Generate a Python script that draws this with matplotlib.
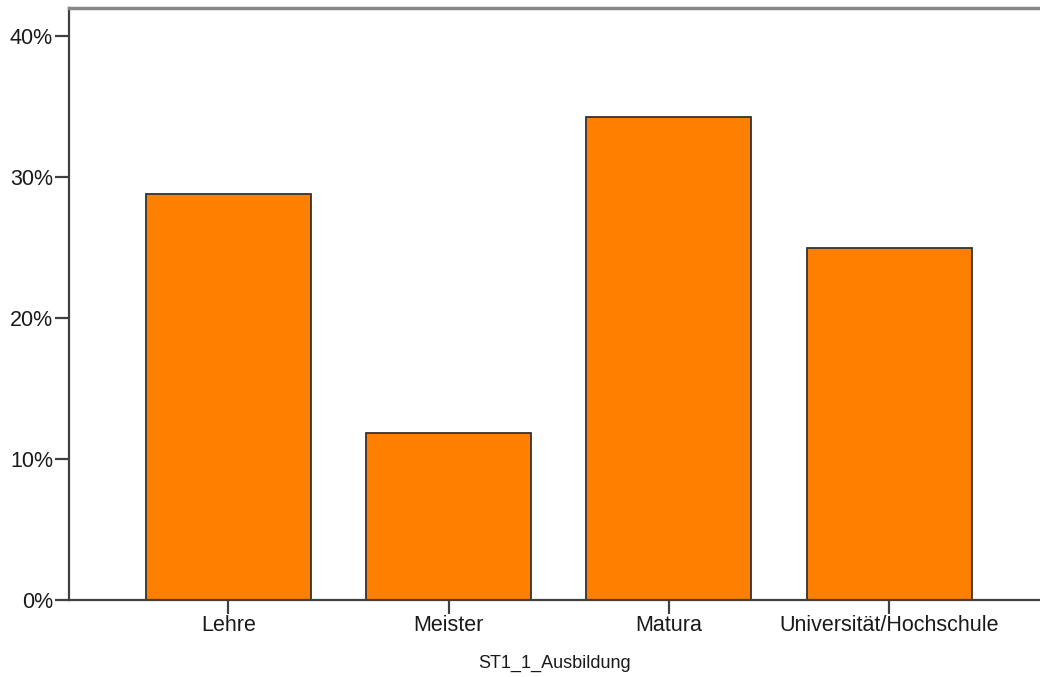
import matplotlib
matplotlib.use("Agg")
import matplotlib.pyplot as plt
from matplotlib.ticker import FuncFormatter

categories = ["Lehre", "Meister", "Matura", "Universität/Hochschule"]
values = [28.8, 11.85, 34.25, 24.95]
yticks = [0, 10, 20, 30, 40]

plt.rcParams['font.family'] = ['Liberation Sans', 'DejaVu Sans']

fig = plt.figure(figsize=(10.4, 6.77), dpi=100)
ax = fig.add_axes([69/1040, 1 - 599.5/677, 1 - 69/1040, (599.5 - 7.5)/677])

x = list(range(len(categories)))
ax.bar(x, values, width=0.75, color="#ff8000", edgecolor="#333333", linewidth=1.3)

ax.set_xlim(-0.7234, 3.685)
ax.set_ylim(0, 42.06)
ax.set_yticks(yticks)
ax.yaxis.set_major_formatter(FuncFormatter(lambda v, p: f"{v:.0f}%"))
ax.set_xticks(x)
ax.set_xticklabels(categories)

for s in ["left", "bottom"]:
    ax.spines[s].set_color("#404040")
    ax.spines[s].set_linewidth(1.6)
ax.spines["top"].set_color("#888888")
ax.spines["top"].set_linewidth(2.5)
ax.spines["right"].set_visible(False)

ax.tick_params(axis="both", direction="out", length=10, width=1.6, color="#404040",
               labelsize=15.5, labelcolor="#1a1a1a", pad=1.5)
ax.set_xlabel("ST1_1_Ausbildung", fontsize=13, color="#1a1a1a", labelpad=13)

fig.savefig("out.png", dpi=100)
